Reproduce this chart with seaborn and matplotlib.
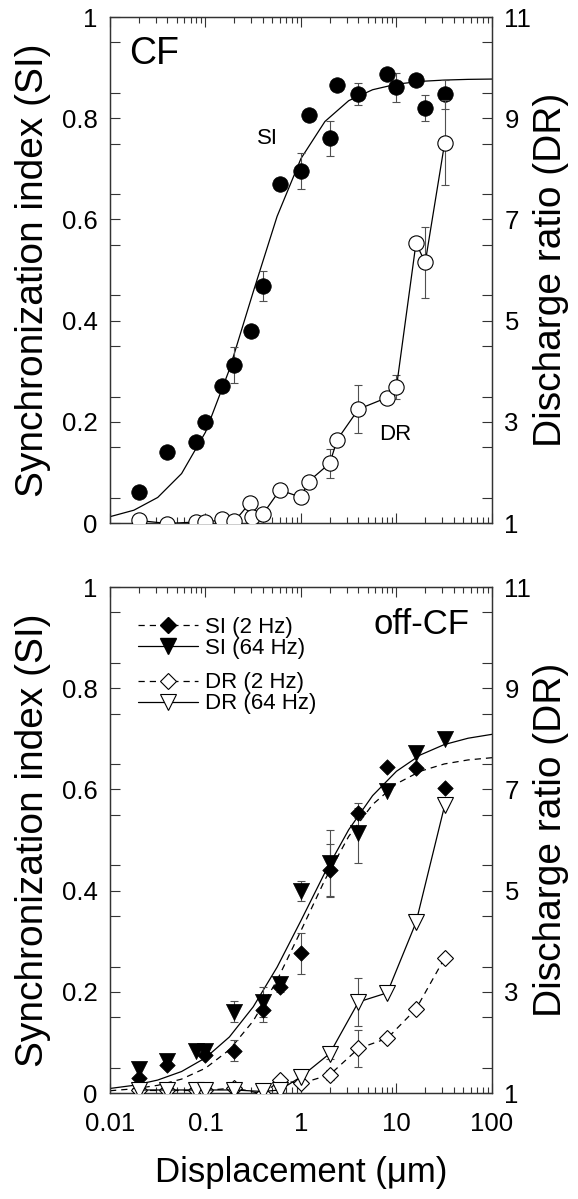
import numpy as np
import matplotlib
matplotlib.use("Agg")
import matplotlib.pyplot as plt
from matplotlib.ticker import FixedLocator, FixedFormatter, LogLocator, NullFormatter
from matplotlib.lines import Line2D
import seaborn as sns

sns.set_theme(style="ticks")
plt.rcParams['font.family'] = ['Liberation Sans', 'DejaVu Sans']
plt.rcParams['text.color'] = 'black'
plt.rcParams['axes.labelcolor'] = 'black'

# ---- CF panel data ----
cf_si_x = [0.02, 0.04, 0.08, 0.1, 0.15, 0.2, 0.3, 0.4, 0.6, 1, 1.2, 2, 2.4, 4, 8, 10, 16, 20, 32]
cf_si = [0.062, 0.14, 0.161, 0.20, 0.27, 0.312, 0.379, 0.468, 0.67, 0.696, 0.806, 0.76,
         0.866, 0.848, 0.887, 0.861, 0.875, 0.82, 0.847]
cf_si_err = [0, 0, 0, 0.01, 0.01, 0.035, 0, 0.03, 0, 0.035, 0, 0.034, 0, 0.022, 0, 0.028,
             0, 0.025, 0.028]

cf_dr_x = [0.02, 0.04, 0.08, 0.1, 0.15, 0.2, 0.29, 0.31, 0.4, 0.6, 1, 1.2, 2, 2.4, 4, 8, 10,
           16, 20, 32]
cf_dr = [1.05, 0.99, 1.02, 1.01, 1.07, 1.03, 1.39, 1.11, 1.18, 1.65, 1.51, 1.82, 2.18, 2.65,
         3.25, 3.48, 3.69, 6.53, 6.15, 8.52]
cf_dr_err = [0, 0, 0, 0, 0, 0, 0, 0, 0, 0, 0, 0, 0.29, 0, 0.47, 0, 0.23, 0, 0.7, 0.84]

# fitted SI curve, every quarter decade
fit_x = [0.01, 0.0178, 0.0316, 0.0562, 0.1, 0.178, 0.316, 0.562, 1, 1.78, 3.16, 5.62, 10,
         17.8, 31.6, 56.2, 100]
cf_fit = [0.0125, 0.0253, 0.0505, 0.0977, 0.1796, 0.3034, 0.4567, 0.606, 0.7204, 0.7935,
          0.8347, 0.8563, 0.8673, 0.8728, 0.8754, 0.8768, 0.8774]

# ---- off-CF panel data ----
off_x = [0.02, 0.04, 0.08, 0.1, 0.2, 0.4, 0.6, 1, 2, 4, 8, 16, 32]
si_2hz = [0.029, 0.055, None, 0.075, 0.084, 0.165, 0.21, 0.276, 0.441, 0.553, 0.645, 0.642, 0.602]
si_2hz_err = [0, 0, 0, 0, 0.02, 0.025, 0.01, 0.04, 0.052, 0.01, 0, 0, 0]
si_64hz = [0.047, 0.064, 0.084, 0.083, 0.161, 0.18, 0.216, 0.399, 0.454, 0.514, 0.597, 0.671, 0.699]
si_64hz_err = [0, 0, 0, 0, 0.02, 0.029, 0.01, 0.02, 0.066, 0.06, 0, 0, 0]
dr_2hz = [1.05, 1.05, 1.05, 1.05, 1.1, 0.98, 1.25, 1.19, 1.36, 1.88, 2.08, 2.66, 3.67]
dr_2hz_err = [0, 0, 0, 0, 0, 0, 0, 0, 0.1, 0.36, 0, 0, 0]
dr_64hz = [1.06, 1.06, 1.06, 1.06, 1.06, 1.03, 1.06, 1.32, 1.78, 2.80, 2.98, 4.37, 6.69]
dr_64hz_err = [0, 0, 0, 0, 0, 0, 0, 0.05, 0.1, 0.48, 0, 0, 0]

fit_64hz = [0.009, 0.0152, 0.0256, 0.0425, 0.0695, 0.1108, 0.1703, 0.2487, 0.3409, 0.4356,
            0.5204, 0.5877, 0.6359, 0.6682, 0.6886, 0.7012, 0.7089]
fit_2hz = [0.0045, 0.0083, 0.0152, 0.0275, 0.0491, 0.0854, 0.1424, 0.2228, 0.3209, 0.4213,
           0.5072, 0.5702, 0.6112, 0.636, 0.6503, 0.6583, 0.6627]

DX = [0.01, 0.1, 1, 10, 100]
DX_LABELS = ['0.01', '0.1', '1', '10', '100']
SI_TICKS = [0, 0.2, 0.4, 0.6, 0.8, 1]
SI_LABELS = ['0', '0.2', '0.4', '0.6', '0.8', '1']
DR_TICKS = [1, 3, 5, 7, 9, 11]

TICK_FS = 18.5
YLABEL_FS = 28
XLABEL_FS = 25
ERR_COLOR = '#505050'
SPINE = '#333333'
DASH = (0, (5, 4))


def errbars(ax, x, y, err):
    x, y, err = np.array(x, float), np.array(y, float), np.array(err, float)
    m = err > 0
    ax.errorbar(x[m], y[m], yerr=err[m], fmt='none', ecolor=ERR_COLOR,
                elinewidth=0.8, capsize=3.2, capthick=0.8, zorder=2)


def style_axes(ax, axr, show_x):
    ax.set_xscale('log')
    ax.set_xlim(0.01, 100)
    ax.set_ylim(0, 1)
    axr.set_ylim(1, 11)
    ax.xaxis.set_major_locator(FixedLocator(DX))
    ax.xaxis.set_minor_locator(LogLocator(base=10, subs=np.arange(2, 10)))
    ax.xaxis.set_minor_formatter(NullFormatter())
    if show_x:
        ax.xaxis.set_major_formatter(FixedFormatter(DX_LABELS))
    else:
        ax.xaxis.set_major_formatter(NullFormatter())
    ax.yaxis.set_major_locator(FixedLocator(SI_TICKS))
    ax.yaxis.set_major_formatter(FixedFormatter(SI_LABELS))
    ax.yaxis.set_minor_locator(FixedLocator(np.arange(0.05, 1, 0.1)))
    axr.yaxis.set_major_locator(FixedLocator(DR_TICKS))
    axr.yaxis.set_major_formatter(FixedFormatter([str(t) for t in DR_TICKS]))
    axr.yaxis.set_minor_locator(FixedLocator(np.arange(1.5, 11, 1.0)))
    ax.tick_params(axis='y', which='major', direction='in', length=7, width=0.8,
                   labelsize=TICK_FS, pad=9, left=True, right=False, colors=SPINE,
                   labelcolor='black')
    ax.tick_params(axis='x', which='major', direction='in', length=7, width=0.8,
                   labelsize=TICK_FS, pad=14, top=True, bottom=True, colors=SPINE,
                   labelcolor='black')
    ax.tick_params(axis='y', which='minor', direction='in', length=7, width=0.8,
                   left=True, right=False, colors=SPINE)
    ax.tick_params(axis='x', which='minor', direction='in', length=4, width=0.8,
                   top=True, bottom=True, colors=SPINE)
    axr.tick_params(axis='y', which='both', direction='in', length=7, width=0.8,
                    labelsize=TICK_FS, pad=9, colors=SPINE, labelcolor='black')
    for a in (ax, axr):
        for s in a.spines.values():
            s.set_linewidth(0.9)
            s.set_color(SPINE)
        a.set_xlabel('')
        a.grid(False)
    ax.set_ylabel('Synchronization index (SI)', fontsize=YLABEL_FS, labelpad=8)
    axr.set_ylabel('Discharge ratio (DR)', fontsize=YLABEL_FS, labelpad=1)


fig = plt.figure(figsize=(5.78, 11.99), dpi=100)
ax1 = fig.add_axes([0.1903, 0.5638, 0.6609, 0.4220])
ax2 = fig.add_axes([0.1903, 0.0884, 0.6609, 0.4220])

# ---- top panel: CF ----
ax1.set_xscale('log')
ax1r = ax1.twinx()
sns.lineplot(x=fit_x, y=cf_fit, ax=ax1, color='black', linewidth=0.9, zorder=2)
errbars(ax1, cf_si_x, cf_si, cf_si_err)
sns.scatterplot(x=cf_si_x, y=cf_si, ax=ax1, marker='o', s=125, color='black',
                edgecolor='black', linewidth=0.5, zorder=4)
errbars(ax1r, cf_dr_x, cf_dr, cf_dr_err)
sns.lineplot(x=cf_dr_x, y=cf_dr, ax=ax1r, color='black', linewidth=0.9, marker='o',
             markersize=11, markerfacecolor='white', markeredgecolor='black',
             markeredgewidth=0.8, zorder=3)
ax1.text(0.05, 0.962, 'CF', transform=ax1.transAxes, fontsize=27, va='top', ha='left')
ax1.text(0.45, 0.76, 'SI', fontsize=16, ha='center', va='center')
ax1r.text(9.6, 2.74, 'DR', fontsize=16, ha='center', va='center')
style_axes(ax1, ax1r, show_x=False)

# ---- bottom panel: off-CF ----
ax2.set_xscale('log')
ax2r = ax2.twinx()
sns.lineplot(x=fit_x, y=fit_64hz, ax=ax2, color='black', linewidth=0.9, zorder=2)
sns.lineplot(x=fit_x, y=fit_2hz, ax=ax2, color='black', linewidth=0.9,
             linestyle=DASH, zorder=2)
errbars(ax2, off_x, si_2hz, si_2hz_err)
errbars(ax2, off_x, si_64hz, si_64hz_err)
errbars(ax2r, off_x, dr_2hz, dr_2hz_err)
errbars(ax2r, off_x, dr_64hz, dr_64hz_err)
x2 = [x for x, v in zip(off_x, si_2hz) if v is not None]
y2 = [v for v in si_2hz if v is not None]
sns.scatterplot(x=x2, y=y2, ax=ax2, marker='D', s=62, color='black', edgecolor='black',
                linewidth=0.5, zorder=4)
sns.scatterplot(x=off_x, y=si_64hz, ax=ax2, marker='v', s=135, color='black',
                edgecolor='black', linewidth=0.5, zorder=4)
sns.lineplot(x=off_x, y=dr_2hz, ax=ax2r, color='black', linewidth=0.9,
             linestyle=DASH, marker='D', markersize=7.8, markerfacecolor='white',
             markeredgecolor='black', markeredgewidth=0.8, zorder=3)
sns.lineplot(x=off_x, y=dr_64hz, ax=ax2r, color='black', linewidth=0.9, marker='v',
             markersize=11.5, markerfacecolor='white', markeredgecolor='black',
             markeredgewidth=0.8, zorder=3)
ax2.text(0.942, 0.958, 'off-CF', transform=ax2.transAxes, fontsize=25, va='top', ha='right')

# legend, two groups
h_si = [Line2D([], [], color='black', lw=0.9, ls=DASH, marker='D', ms=7.8,
               mfc='black', mec='black'),
        Line2D([], [], color='black', lw=0.9, ls='-', marker='v', ms=11.5,
               mfc='black', mec='black')]
h_dr = [Line2D([], [], color='black', lw=0.9, ls=DASH, marker='D', ms=7.8,
               mfc='white', mec='black', mew=0.8),
        Line2D([], [], color='black', lw=0.9, ls='-', marker='v', ms=11.5,
               mfc='white', mec='black', mew=0.8)]
leg_kw = dict(frameon=False, fontsize=16, handlelength=2.7, handletextpad=0.3,
              labelspacing=0.0, borderpad=0, borderaxespad=0)
leg1 = ax2.legend(h_si, ['SI (2 Hz)', 'SI (64 Hz)'], loc='center left',
                  bbox_to_anchor=(0.073, 0.9), **leg_kw)
ax2.add_artist(leg1)
ax2.legend(h_dr, ['DR (2 Hz)', 'DR (64 Hz)'], loc='center left',
           bbox_to_anchor=(0.073, 0.79), **leg_kw)
style_axes(ax2, ax2r, show_x=True)
ax2.set_xlabel('Displacement (\u03bcm)', fontsize=XLABEL_FS, labelpad=14)

fig.savefig('out.png', dpi=100)
